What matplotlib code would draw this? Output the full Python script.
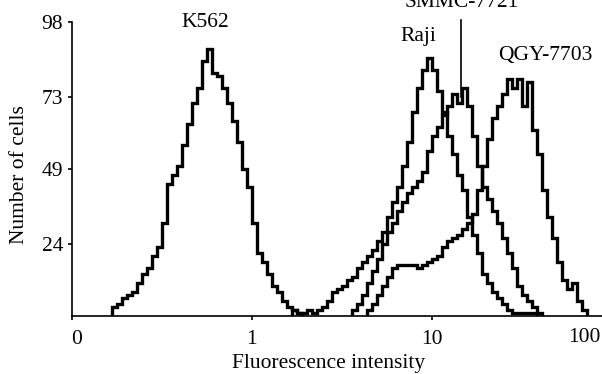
import numpy as np
import matplotlib
matplotlib.use("Agg")
import matplotlib.pyplot as plt
from matplotlib.ticker import NullLocator

# ===========================
# Data
# ===========================
# log channels: 36 channels per decade, channel 0 = 0.1
CHANNELS_PER_DECADE = 36

K562_START = 8
K562_COUNTS = [3, 4, 6, 7, 8, 11, 14, 16, 20, 23, 31, 44, 47, 50, 57, 64, 71, 76,
               85, 89, 81, 80, 76, 71, 65, 58, 49, 43, 31, 21, 18, 14, 10, 8, 5, 3, 2, 1]

RAJI_START = 44
RAJI_COUNTS = [2, 1, 1, 2, 1, 2, 3, 5, 8, 9, 10, 12, 13, 16, 18, 20, 22, 25, 28, 33,
               38, 43, 50, 58, 68, 76, 82, 86, 82, 75, 68, 60, 54, 47, 42, 33, 27, 21,
               14, 11, 8, 6, 4, 2, 1, 1, 1, 1, 1]

SMMC_START = 56
SMMC_COUNTS = [2, 4, 7, 11, 15, 19, 24, 28, 31, 35, 38, 41, 43, 45, 48, 55, 60, 63,
               67, 70, 74, 71, 76, 70, 60, 50, 43, 39, 35, 31, 26, 21, 16, 10, 7, 5, 3, 1]

QGY_START = 59
QGY_COUNTS = [2, 4, 7, 10, 13, 16, 17, 17, 17, 17, 16, 17, 18, 19, 20, 23, 25, 26,
              27, 29, 31, 34, 42, 50, 59, 66, 70, 74, 79, 76, 79, 70, 78, 62, 54, 42,
              33, 26, 18, 12, 9, 11, 5, 2]

SERIES = [
    (K562_START, K562_COUNTS),
    (RAJI_START, RAJI_COUNTS),
    (SMMC_START, SMMC_COUNTS),
    (QGY_START, QGY_COUNTS),
]

LABELS = ["K562", "Raji", "SMMC-7721", "QGY-7703"]
LABEL_POS = [(0.552, 98.0), (8.4, 93.3), (14.8, 104.5), (42.6, 87.0)]
POINTER_X = 14.6
POINTER_Y = (73.0, 98.7)

Y_TICKS = [24, 49, 73, 98]
X_TICKS = [0.1, 1, 10]
X_TICK_LABELS = ["0", "1", "10"]

FONT = "Liberation Serif"
FS = 15.5


def channel_edges(start, n):
    ch = np.arange(start, start + n + 1)
    return 10.0 ** (-1 + ch / CHANNELS_PER_DECADE)


def main():
    plt.rcParams["font.family"] = [FONT, "DejaVu Serif"]
    fig = plt.figure(figsize=(6.02, 3.74), dpi=100)
    ax = fig.add_axes([71.5 / 602, 58 / 374, 530.5 / 602, 294 / 374])

    for start, counts in SERIES:
        edges = channel_edges(start, len(counts))
        ax.stairs(counts, edges, baseline=0, color="black", lw=2.4)

    ax.set_xscale("log")
    ax.set_xlim(0.1, 10 ** 1.947)
    ax.set_ylim(0, 98)

    ax.spines["top"].set_visible(False)
    ax.spines["right"].set_visible(False)
    for s in ("left", "bottom"):
        ax.spines[s].set_linewidth(1.2)

    ax.set_yticks(Y_TICKS)
    ax.set_yticklabels([str(v) for v in Y_TICKS])
    ax.set_xticks(X_TICKS)
    ax.set_xticklabels(X_TICK_LABELS)
    ax.xaxis.set_minor_locator(NullLocator())
    ax.tick_params(axis="both", direction="out", length=3, width=1.2,
                   labelsize=FS, pad=3)
    ax.tick_params(axis="x", pad=7)
    ax.get_xticklabels()[0].set_horizontalalignment("left")

    # "100" sits at the right edge, its tick falls outside the frame
    ax.annotate("100", xy=(1.0, 0), xycoords="axes fraction",
                xytext=(-1, -9), textcoords="offset points",
                ha="right", va="top", fontsize=FS)

    ax.set_xlabel("Fluorescence intensity", fontsize=FS)
    ax.xaxis.set_label_coords(0.484, -0.13)
    ax.set_ylabel("Number of cells", fontsize=FS, va="center")
    ax.yaxis.set_label_coords(-0.098, 0.48)

    for text, (x, y) in zip(LABELS, LABEL_POS):
        ax.text(x, y, text, ha="center", va="center", fontsize=FS, clip_on=False)
    ax.plot([POINTER_X, POINTER_X], POINTER_Y, color="black", lw=1.2, clip_on=False)

    fig.savefig("out.png", dpi=100)


if __name__ == "__main__":
    main()
